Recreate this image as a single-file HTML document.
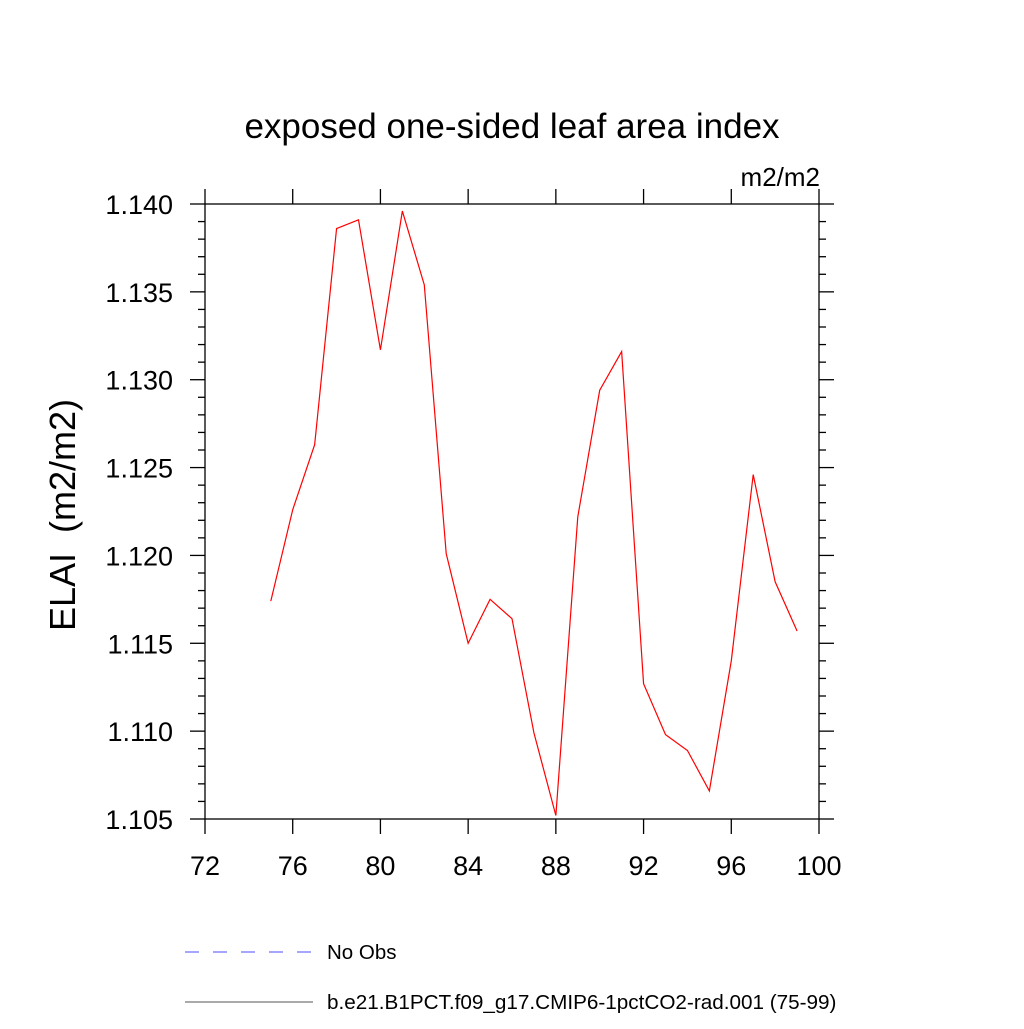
<!DOCTYPE html>
<html><head><meta charset="utf-8"><style>
body{margin:0;background:#fff}
text{font-family:"Liberation Sans",sans-serif;fill:#000}
</style></head><body>
<svg id="chart" width="1024" height="1024">
<text x="512" y="138" font-size="35" text-anchor="middle">exposed one-sided leaf area index</text>
<text x="820" y="186" font-size="26" text-anchor="end">m2/m2</text>
<text transform="translate(75,515) rotate(-90)" font-size="36" text-anchor="middle">ELAI&#160; (m2/m2)</text>
<g id="axes"></g>
<polyline id="series" fill="none" stroke="#ff0000" stroke-width="1.2"/>
<line x1="185" y1="952" x2="315" y2="952" stroke="#4d4dff" stroke-width="1" stroke-dasharray="14,14"/>
<text x="327" y="959" font-size="20.5">No Obs</text>
<line x1="185" y1="1002" x2="313" y2="1002" stroke="#555" stroke-width="1"/>
<text x="327" y="1009" font-size="20.7">b.e21.B1PCT.f09_g17.CMIP6-1pctCO2-rad.001 (75-99)</text>
</svg>
<script>
const years=[75,76,77,78,79,80,81,82,83,84,85,86,87,88,89,90,91,92,93,94,95,96,97,98,99];
const elai=[1.1174,1.1226,1.1263,1.1386,1.1391,1.1317,1.1396,1.1354,1.1201,1.1150,1.1175,1.1164,1.1099,1.1052,1.1222,1.1294,1.1316,1.1127,1.1098,1.1089,1.1066,1.1140,1.1246,1.1185,1.1157];
const xTicks=[72,76,80,84,88,92,96,100];
const yTicks=[1.105,1.110,1.115,1.120,1.125,1.130,1.135,1.140];
const L=205,R=819,T=204,B=819,xMin=72,xMax=100,yMin=1.105,yMax=1.140;
const sx=v=>L+(v-xMin)/(xMax-xMin)*(R-L);
const sy=v=>B-(v-yMin)/(yMax-yMin)*(B-T);
const ns="http://www.w3.org/2000/svg";
const g=document.getElementById('axes');
function ln(x1,y1,x2,y2,name){const l=document.createElementNS(ns,'line');
l.setAttribute('x1',x1);l.setAttribute('y1',y1);l.setAttribute('x2',x2);l.setAttribute('y2',y2);
l.setAttribute('stroke','#000');l.setAttribute('stroke-width','1.3');


g.appendChild(l);}
function tx(x,y,s,anchor,name){const t=document.createElementNS(ns,'text');
t.setAttribute('x',x);t.setAttribute('y',y);t.setAttribute('font-size','27');t.setAttribute('text-anchor',anchor);t.textContent=s;


g.appendChild(t);}
const fr=document.createElementNS(ns,'rect');
fr.setAttribute('x',L);fr.setAttribute('y',T);fr.setAttribute('width',R-L);fr.setAttribute('height',B-T);
fr.setAttribute('fill','none');fr.setAttribute('stroke','#000');fr.setAttribute('stroke-width','1.3');


g.appendChild(fr);
xTicks.forEach(v=>{const x=sx(v);ln(x,B,x,B+15,'x-tick');ln(x,T,x,T-15,'x-tick-top');tx(x,B+56,String(v),'middle','x-tick-label');});
for(let i=0;i<=35;i++){const v=yMin+i*0.001,y=sy(v),len=(i%5===0)?15:7;
ln(L-len,y,L,y,'y-tick');ln(R,y,R+len,y,'y-tick-right');}
yTicks.forEach(v=>tx(L-32,sy(v)+10,v.toFixed(3),'end','y-tick-label'));
document.getElementById('series').setAttribute('points',years.map((y,i)=>sx(y)+','+sy(elai[i])).join(' '));
</script>
</body></html>
